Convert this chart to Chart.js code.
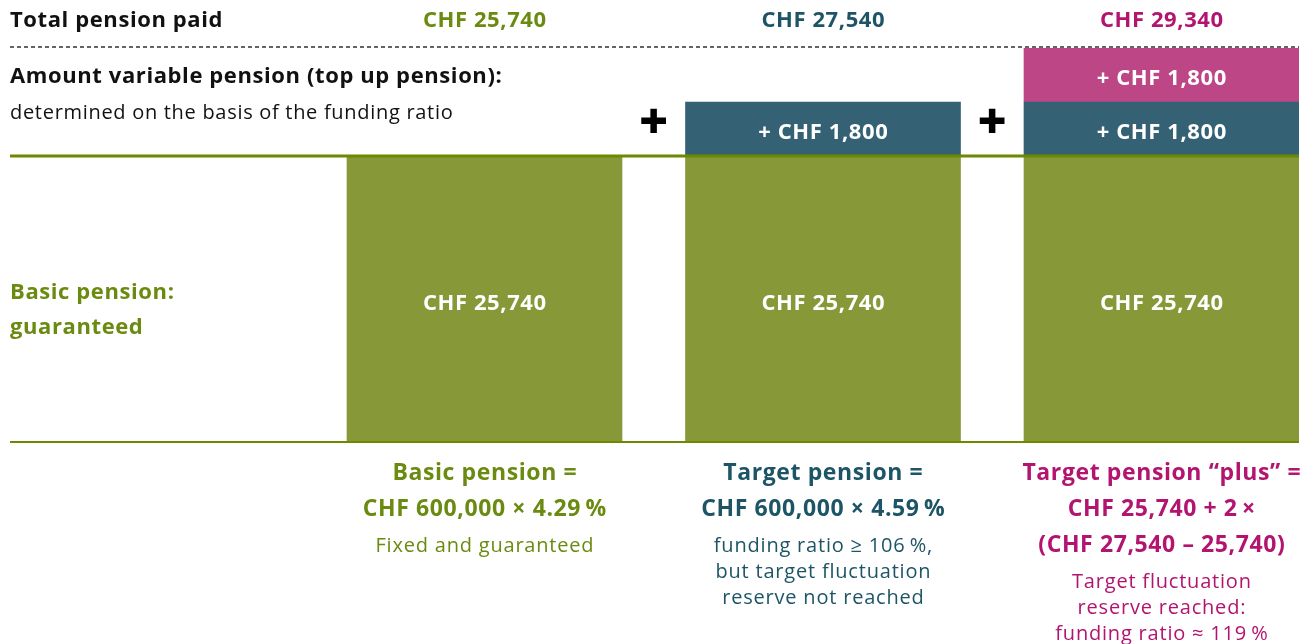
<!DOCTYPE html>
<html><head><meta charset="utf-8">
<script src="https://cdn.jsdelivr.net/npm/chart.js@4/dist/chart.umd.min.js"></script>
<style>html,body{margin:0;padding:0;background:#fff;overflow:hidden}#wrap{width:1316px;height:644px;position:relative}</style>
</head><body><div id="wrap"><canvas id="c" width="1316" height="644"></canvas></div>
<script>
// ---- data ----
const categories = ['Basic pension', 'Target pension', 'Target pension “plus”'];
const basicPension = [25740, 25740, 25740];
const topUpPension = [null, 1800, 1800];
const topUpPlus = [null, null, 1800];
const formulaLines = [
  ['Basic pension =', 'CHF 600,000 × 4.29\u2009%'],
  ['Target pension =', 'CHF 600,000 × 4.59\u2009%'],
  ['Target pension “plus” =', 'CHF 25,740 + 2\u2009×', '(CHF 27,540 – 25,740)']
];
const noteLines = [
  ['Fixed and guaranteed'],
  ['funding ratio ≥ 106\u2009%,', 'but target fluctuation', 'reserve not reached'],
  ['Target fluctuation', 'reserve reached:', 'funding ratio ≈ 119\u2009%']
];
const rowLabels = ['Total pension paid', 'Amount variable pension (top up pension):', 'determined on the basis of the funding ratio'];
const baseLabels = ['Basic pension:', 'guaranteed'];

// ---- style / layout ----
const FONT = '"Open Sans", "Noto Sans", sans-serif';
const textColors = ['#6b8a10', '#1d5566', '#b3146f'];
const GREEN_BAR = '#869838', BLUE_BAR = '#346274', PINK_BAR = '#bd4687', LINE = '#6b8a00';
const AREA_TOP = 48, AREA_BOTTOM = 441, SPLIT = 156, AREA_LEFT = 10, AREA_RIGHT = 1299;
const CENTER1 = 484.5, STEP = 338.5;

const maxBasic = Math.max(...basicPension);
const maxTop = Math.max(...topUpPension.map((v, i) => (v || 0) + (topUpPlus[i] || 0)));
const baseMax = maxBasic * (AREA_BOTTOM - AREA_TOP) / (AREA_BOTTOM - SPLIT);
const topMin = -maxTop * (AREA_BOTTOM - SPLIT) / (SPLIT - AREA_TOP);
const xMin = 1 - (CENTER1 - AREA_LEFT) / STEP;
const xMax = categories.length + (AREA_RIGHT - (CENTER1 + STEP * (categories.length - 1))) / STEP;
const fmt = v => 'CHF ' + v.toLocaleString('en-US');
const toXY = arr => arr.map((v, i) => ({ x: i + 1, y: v }));

function setFont(ctx, weight, size, spacing) {
  ctx.font = weight + ' ' + size + 'px ' + FONT;
  if ('letterSpacing' in ctx) ctx.letterSpacing = spacing + 'px';
}
function text(ctx, t, x, y, spacing, align) {
  const dx = align === 'center' ? spacing / 2 : 0;
  ctx.fillText(t, x + dx, y);
}

const labelPlugin = {
  id: 'labels',
  afterDatasetsDraw(chart) {
    const ctx = chart.ctx;
    const yB = chart.scales.yBase, yT = chart.scales.yTop, xs = chart.scales.x;
    ctx.save();
    ctx.textBaseline = 'middle';
    // labels inside bars
    chart.data.datasets.forEach((ds, di) => {
      const meta = chart.getDatasetMeta(di);
      meta.data.forEach((el, i) => {
        const v = ds.data[i].y;
        if (v == null) return;
        const { x, y, base } = el.getProps(['x', 'y', 'base'], true);
        ctx.fillStyle = '#ffffff';
        setFont(ctx, 700, 22, 0.6);
        ctx.textAlign = 'center';
        text(ctx, (di === 0 ? '' : '+ ') + fmt(v), x, (y + base) / 2 + (di === 0 ? 5 : 4), 0.6, 'center');
      });
    });
    // horizontal rules
    const L = chart.chartArea.left, R = chart.chartArea.right;
    ctx.strokeStyle = LINE;
    ctx.lineWidth = 3;
    let yy = yB.getPixelForValue(maxBasic);
    ctx.beginPath(); ctx.moveTo(L, yy); ctx.lineTo(R, yy); ctx.stroke();
    ctx.lineWidth = 2;
    yy = yB.getPixelForValue(0) + 1;
    ctx.beginPath(); ctx.moveTo(L, yy); ctx.lineTo(R, yy); ctx.stroke();
    ctx.strokeStyle = '#333333'; ctx.lineWidth = 1.5; ctx.setLineDash([4, 3]);
    yy = yT.getPixelForValue(yT.max) - 1;
    ctx.beginPath(); ctx.moveTo(L, yy); ctx.lineTo(R, yy); ctx.stroke();
    ctx.setLineDash([]);

    // row labels on left
    ctx.textAlign = 'left';
    ctx.fillStyle = '#111111';
    setFont(ctx, 700, 22, 0.6);
    text(ctx, rowLabels[0], 10, 21, 0.6);
    text(ctx, rowLabels[1], 10, 77, 0.6);
    setFont(ctx, 400, 20, 0.7);
    text(ctx, rowLabels[2], 10, 113, 0.7);
    ctx.fillStyle = textColors[0];
    setFont(ctx, 700, 22, 0.6);
    text(ctx, baseLabels[0], 10, 293, 0.6);
    text(ctx, baseLabels[1], 10, 328, 0.6);

    // totals, plus signs, formulas
    ctx.textAlign = 'center';
    categories.forEach((c, i) => {
      const cx = xs.getPixelForValue(i + 1);
      const total = (basicPension[i] || 0) + (topUpPension[i] || 0) + (topUpPlus[i] || 0);
      ctx.fillStyle = textColors[i];
      setFont(ctx, 700, 22, 0.6);
      text(ctx, fmt(total), cx, 21, 0.6, 'center');
      let y = 473;
      setFont(ctx, 700, 23, 0.6);
      formulaLines[i].forEach(t => { text(ctx, t, cx, y, 0.6, 'center'); y += 36; });
      y += 1;
      setFont(ctx, 400, 20, 0.8);
      noteLines[i].forEach(t => { text(ctx, t, cx, y, 0.8, 'center'); y += 26; });
      if (i > 0) {
        const px = xs.getPixelForValue(i + 0.5);
        ctx.fillStyle = '#000000';
        setFont(ctx, 800, 50, 0);
        ctx.fillText('+', px, 125);
      }
    });
    ctx.restore();
  }
};

new Chart(document.getElementById('c'), {
  type: 'bar',
  data: {
    datasets: [
      { label: 'Basic pension', data: toXY(basicPension), yAxisID: 'yBase', backgroundColor: GREEN_BAR },
      { label: 'Top up pension', data: toXY(topUpPension), yAxisID: 'yTop', backgroundColor: BLUE_BAR },
      { label: 'Top up pension plus', data: toXY(topUpPlus), yAxisID: 'yTop', backgroundColor: PINK_BAR }
    ]
  },
  options: {
    responsive: false,
    animation: false,
    events: [],
    layout: { padding: { top: AREA_TOP, bottom: 644 - AREA_BOTTOM, left: AREA_LEFT, right: 1316 - AREA_RIGHT } },
    datasets: { bar: { barThickness: 275, borderWidth: 0 } },
    plugins: { legend: { display: false }, tooltip: { enabled: false }, title: { display: false } },
    scales: {
      x: { type: 'linear', display: false, min: xMin, max: xMax, stacked: true, offset: false },
      yBase: { type: 'linear', display: false, min: 0, max: baseMax, stacked: true },
      yTop: { type: 'linear', display: false, min: topMin, max: maxTop, stacked: true }
    }
  },
  plugins: [labelPlugin]
});
</script>
</body></html>
